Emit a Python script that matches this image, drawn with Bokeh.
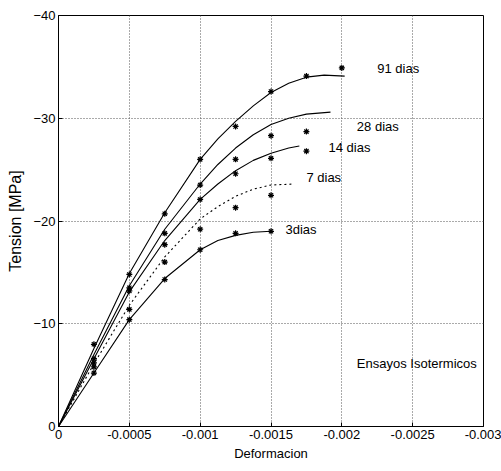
from bokeh.plotting import figure
from bokeh.models import Range1d, FixedTicker, CustomJSTickFormatter, Label
from bokeh.embed import file_html
from bokeh.resources import INLINE

# ---- data (strain, stress in MPa; compression negative) ----
# measured points
d91_x = [-0.00025, -0.0005, -0.00075, -0.001, -0.00125, -0.0015, -0.00175, -0.002]
d91_y = [-8.0, -14.8, -20.7, -26.0, -29.2, -32.6, -34.1, -34.9]
d28_x = [-0.00025, -0.0005, -0.00075, -0.001, -0.00125, -0.0015, -0.00175]
d28_y = [-6.6, -13.5, -18.8, -23.5, -26.0, -28.3, -28.7]
d14_x = [-0.00025, -0.0005, -0.00075, -0.001, -0.00125, -0.0015, -0.00175]
d14_y = [-6.2, -13.2, -17.7, -22.1, -24.6, -26.1, -26.8]
d7_x = [-0.00025, -0.0005, -0.00075, -0.001, -0.00125, -0.0015]
d7_y = [-5.8, -11.4, -16.0, -19.2, -21.3, -22.5]
d3_x = [-0.00025, -0.0005, -0.00075, -0.001, -0.00125, -0.0015]
d3_y = [-5.2, -10.4, -14.3, -17.2, -18.8, -19.0]

# fitted curves
c91_x = [0, -0.00025, -0.0005, -0.00075, -0.001, -0.001125, -0.00125, -0.001375, -0.0015, -0.001625, -0.00175, -0.001875, -0.00202]
c91_y = [0, -7.6, -14.9, -20.8, -26.0, -28.0, -29.7, -31.2, -32.5, -33.4, -34.0, -34.2, -34.1]
c28_x = [0, -0.00025, -0.0005, -0.00075, -0.001, -0.001125, -0.00125, -0.001375, -0.0015, -0.001625, -0.00175, -0.00192]
c28_y = [0, -7.0, -13.7, -19.2, -23.6, -25.5, -27.1, -28.4, -29.4, -30.0, -30.4, -30.6]
c14_x = [0, -0.00025, -0.0005, -0.00075, -0.001, -0.001125, -0.00125, -0.001375, -0.0015, -0.001625, -0.0017]
c14_y = [0, -6.6, -13.1, -18.1, -22.1, -23.6, -24.9, -25.9, -26.6, -27.1, -27.3]
c7_x = [0, -0.00025, -0.0005, -0.00075, -0.001, -0.001125, -0.00125, -0.001375, -0.0015, -0.00166]
c7_y = [0, -6.1, -11.8, -16.5, -20.2, -21.4, -22.4, -23.1, -23.5, -23.6]
c3_x = [0, -0.00025, -0.0005, -0.00075, -0.001, -0.001125, -0.00125, -0.001375, -0.0015]
c3_y = [0, -5.2, -10.4, -14.4, -17.2, -18.1, -18.6, -18.9, -19.0]

x_ticks = [0, -0.0005, -0.001, -0.0015, -0.002, -0.0025, -0.003]
y_ticks = [0, -10, -20, -30, -40]

FONT = "Liberation Sans"

p = figure(width=501, height=471, output_backend="svg", toolbar_location=None,
           x_range=Range1d(0, -0.003), y_range=Range1d(0, -40),
           min_border_left=58, min_border_right=18, min_border_top=15, min_border_bottom=45)

p.outline_line_color = "black"
p.outline_line_width = 1
p.background_fill_color = "white"
p.border_fill_color = "white"

p.xaxis.ticker = FixedTicker(ticks=x_ticks)
p.yaxis.ticker = FixedTicker(ticks=y_ticks)
p.xaxis.formatter = CustomJSTickFormatter(code="return String(Math.round(tick*100000)/100000);")
for ax in (p.xaxis[0], p.yaxis[0]):
    ax.major_tick_in = 4
    ax.major_tick_out = 0
    ax.minor_tick_line_color = None
    ax.axis_line_color = "black"
    ax.major_label_text_font = FONT
    ax.major_label_text_font_size = "13px"
    ax.major_label_text_color = "black"
    ax.axis_label_text_font = FONT
    ax.axis_label_text_font_style = "normal"
    ax.axis_label_text_color = "black"
p.xaxis.axis_label = "Deformacion"
p.yaxis.axis_label = "Tension [MPa]"
p.xaxis.axis_label_text_font_size = "13px"
p.yaxis.axis_label_text_font_size = "16px"
p.xaxis.axis_label_standoff = 4
p.yaxis.axis_label_standoff = 6
p.xaxis.major_label_standoff = 3
p.yaxis.major_label_standoff = 3

p.xgrid.ticker = FixedTicker(ticks=x_ticks)
p.ygrid.ticker = FixedTicker(ticks=y_ticks)
for g in (p.xgrid[0], p.ygrid[0]):
    g.grid_line_color = "#555555"
    g.grid_line_dash = "1 2"
    g.grid_line_width = 1

for cx, cy in ((c91_x, c91_y), (c28_x, c28_y), (c14_x, c14_y), (c3_x, c3_y)):
    p.line(cx, cy, line_color="black", line_width=1.1)
p.line(c7_x, c7_y, line_color="black", line_width=1.1, line_dash="2 3")

for dx, dy in ((d91_x, d91_y), (d28_x, d28_y), (d14_x, d14_y), (d7_x, d7_y), (d3_x, d3_y)):
    p.scatter(dx, dy, marker="asterisk", size=6, line_color="black", line_width=1.2)

labels = [("91 dias", -0.00225, -34.8), ("28 dias", -0.002106, -29.2),
          ("14 dias", -0.001906, -27.2), ("7 dias", -0.00175, -24.2),
          ("3dias", -0.001602, -19.2), ("Ensayos Isotermicos", -0.002106, -6.1)]
for t, lx, ly in labels:
    p.add_layout(Label(x=lx, y=ly, text=t, text_font=FONT, text_font_size="13px",
                       text_color="black", text_baseline="middle", text_align="left"))

open("out.html", "w").write(file_html(p, INLINE))
